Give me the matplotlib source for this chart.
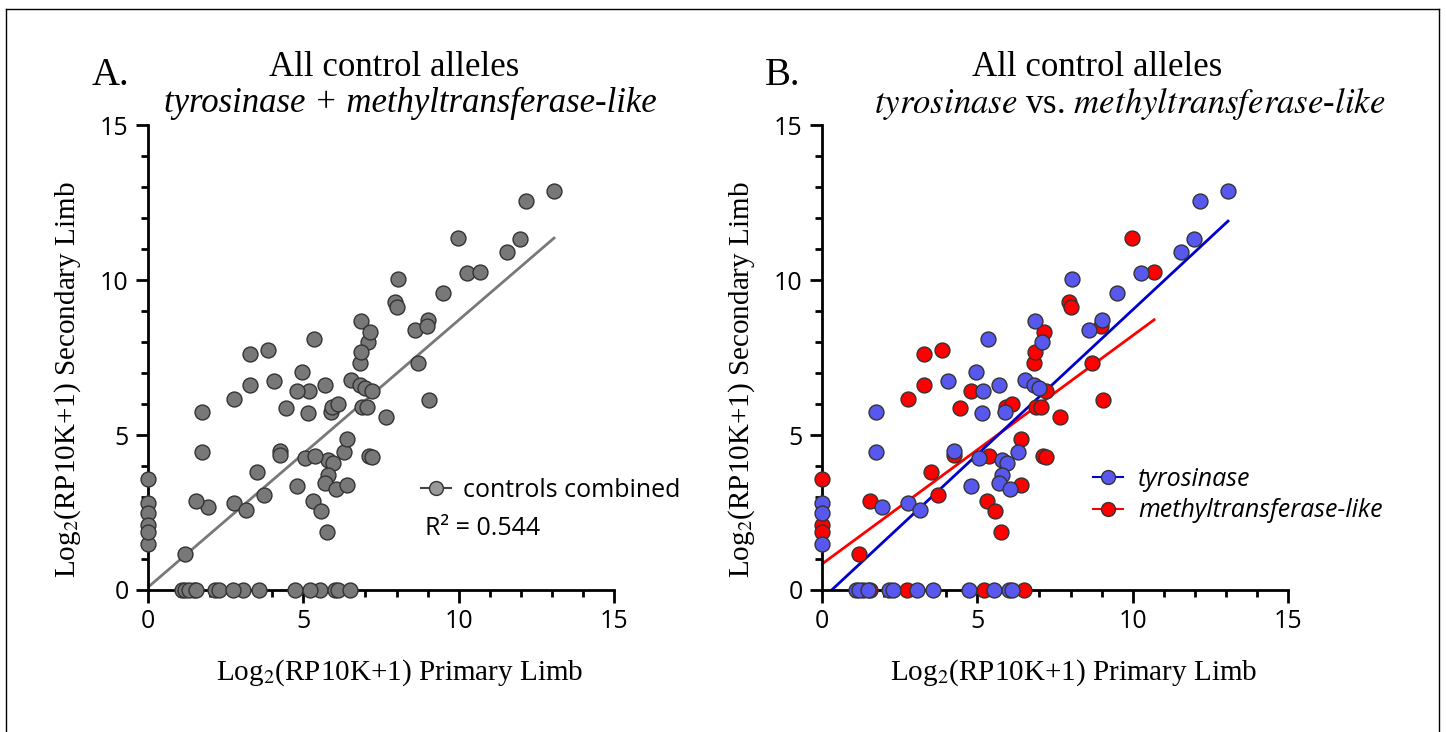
import matplotlib.pyplot as plt
import numpy as np
from matplotlib.lines import Line2D

# tyrosinase alleles (blue)
tyr_x = [1.1, 1.2, 1.47, 2.16, 2.28, 3.07, 3.56, 4.72, 5.53, 6.02, 6.1,
         0, 0, 0,
         1.73, 1.75, 1.94, 2.78, 3.15, 4.05, 4.25, 4.8, 4.95, 5.04, 5.15, 5.17,
         5.35, 5.71, 5.8, 5.97, 5.8, 5.71, 6.06, 5.89, 6.32, 6.53, 6.82, 6.97,
         6.84, 7.07, 8.06, 8.6, 9.0, 9.5, 10.27, 11.57, 11.98, 12.18, 13.07]
tyr_y = [0, 0, 0, 0, 0, 0, 0, 0, 0, 0, 0,
         2.8, 2.47, 1.48,
         5.76, 4.46, 2.69, 2.8, 2.58, 6.74, 4.47, 3.36, 7.02, 4.27, 5.71, 6.42,
         8.1, 6.61, 4.19, 4.11, 3.71, 3.44, 3.27, 5.73, 4.46, 6.77, 6.63, 6.53,
         8.68, 8.01, 10.04, 8.39, 8.71, 9.6, 10.22, 10.9, 11.33, 12.56, 12.89]

# methyltransferase-like alleles (red)
met_x = [1.33, 1.53, 2.73, 5.22, 6.5,
         0, 0, 0,
         1.2, 1.55, 2.77, 3.29, 3.29, 3.52, 3.72, 3.87, 4.26, 4.43, 4.8, 5.3,
         5.39, 5.57, 5.75, 5.92, 6.12, 6.4, 6.42, 6.82, 6.87, 6.88, 7.04, 7.16,
         7.12, 7.2, 7.2, 7.66, 7.95, 8.01, 8.68, 8.97, 9.06, 9.97, 10.69]
met_y = [0, 0, 0, 0, 0,
         3.57, 2.1, 1.88,
         1.16, 2.87, 6.16, 7.6, 6.6, 3.8, 3.06, 7.73, 4.35, 5.88, 6.41, 2.87,
         4.33, 2.56, 1.86, 5.89, 6.0, 4.87, 3.4, 7.31, 7.68, 5.89, 5.89, 8.31,
         4.32, 4.3, 6.43, 5.58, 9.28, 9.12, 7.33, 8.52, 6.13, 11.36, 10.25]

# fitted lines as drawn in the figure (slope, intercept)
fit_all = (0.862, 0.09)
fit_tyr = (0.933, -0.29)
fit_met = (0.737, 0.84)
r2_all = 0.544

all_x = tyr_x + met_x
all_y = tyr_y + met_y

serif = 'Liberation Serif'
sans = 'Open Sans'
plt.rcParams['mathtext.fontset'] = 'stix'

fig = plt.figure(figsize=(14.46, 7.32), dpi=100)
axA = fig.add_axes([0.1024, 0.194, 0.3222, 0.635])
axB = fig.add_axes([0.5685, 0.194, 0.3222, 0.635])

grey = '#787878'
blue = '#5858ee'
red = '#ff0000'
edge = '#333333'


def style(ax):
    ax.set_xlim(0, 15)
    ax.set_ylim(0, 15)
    for s in ['top', 'right']:
        ax.spines[s].set_visible(False)
    for s in ['left', 'bottom']:
        ax.spines[s].set_linewidth(2)
    ax.set_xticks([0, 5, 10, 15])
    ax.set_yticks([0, 5, 10, 15])
    ax.set_xticks(np.arange(0, 16), minor=True)
    ax.set_yticks(np.arange(0, 16), minor=True)
    ax.tick_params(which='major', length=9, width=2, direction='out', pad=5)
    ax.tick_params(which='minor', length=5, width=2, direction='out')
    for lab in ax.get_xticklabels() + ax.get_yticklabels():
        lab.set_fontfamily(sans)
        lab.set_fontsize(18)
    ax.set_xlabel('Log$_2$(RP10K+1) Primary Limb', fontfamily=serif, fontsize=21)
    ax.set_ylabel('Log$_2$(RP10K+1) Secondary Limb', fontfamily=serif, fontsize=21)
    ax.xaxis.set_label_coords(0.54, -0.145)
    ax.yaxis.set_label_coords(-0.14, 0.452)


def fitline(ax, xs, fit, color):
    xx = np.array([0, max(xs)])
    ax.plot(xx, fit[0] * xx + fit[1], color=color, lw=2, zorder=2)


# Panel A
style(axA)
fitline(axA, all_x, fit_all, grey)
axA.scatter(all_x, all_y, s=115, c=grey, edgecolors=edge, linewidths=1, zorder=5, clip_on=False)
hA = Line2D([], [], color='#444444', lw=1.5, marker='o', markersize=10,
            markerfacecolor='#999999', markeredgecolor=edge)
axA.legend([hA], ['controls combined'], loc='center left', bbox_to_anchor=(0.585, 0.215),
           frameon=False, borderpad=0, borderaxespad=0, handlelength=1.2, handletextpad=0.5,
           prop={'family': sans, 'size': 18})
axA.text(0.594, 0.133, 'R² = ' + str(r2_all), transform=axA.transAxes, fontfamily=sans,
         fontsize=18, va='center')

# Panel B
style(axB)
fitline(axB, met_x, fit_met, red)
fitline(axB, tyr_x, fit_tyr, '#0000cc')
axB.scatter(met_x, met_y, s=115, c=red, edgecolors=edge, linewidths=1, zorder=5, clip_on=False)
axB.scatter(tyr_x, tyr_y, s=115, c=blue, edgecolors=edge, linewidths=1, zorder=6, clip_on=False)
hT = Line2D([], [], color='#0000cc', lw=1.5, marker='o', markersize=10,
            markerfacecolor=blue, markeredgecolor=edge)
hM = Line2D([], [], color=red, lw=1.5, marker='o', markersize=10,
            markerfacecolor=red, markeredgecolor=edge)
axB.legend([hT, hM], ['tyrosinase', 'methyltransferase-like'], loc='center left',
           bbox_to_anchor=(0.582, 0.204), frameon=False, borderpad=0, borderaxespad=0,
           handlelength=1.2, handletextpad=0.6, labelspacing=0.25,
           prop={'family': sans, 'size': 18, 'style': 'italic'})

# titles and panel letters
fig.text(0.2725, 0.908, 'All control alleles', ha='center', va='center', fontfamily=serif, fontsize=25)
fig.text(0.284, 0.859, 'tyrosinase + methyltransferase-like', ha='center', va='center',
         fontfamily=serif, fontsize=25, style='italic')
fig.text(0.7586, 0.908, 'All control alleles', ha='center', va='center', fontfamily=serif, fontsize=25)
fig.text(0.7815, 0.859, '$\\it{tyrosinase}$ vs. $\\it{methyltransferase}$-$\\it{like}$',
         ha='center', va='center', fontfamily=serif, fontsize=25)
fig.text(0.0636, 0.8975, 'A.', ha='left', va='center', fontfamily=serif, fontsize=28)
fig.text(0.529, 0.8975, 'B.', ha='left', va='center', fontfamily=serif, fontsize=28)

# frame around the figure
for xs, ys in [([0.004, 0.004], [0.0, 0.988]), ([0.004, 0.9952], [0.988, 0.988]),
               ([0.9952, 0.9952], [0.988, 0.0])]:
    fig.add_artist(Line2D(xs, ys, color='black', lw=1, transform=fig.transFigure))

fig.savefig('out.png', dpi=100)
